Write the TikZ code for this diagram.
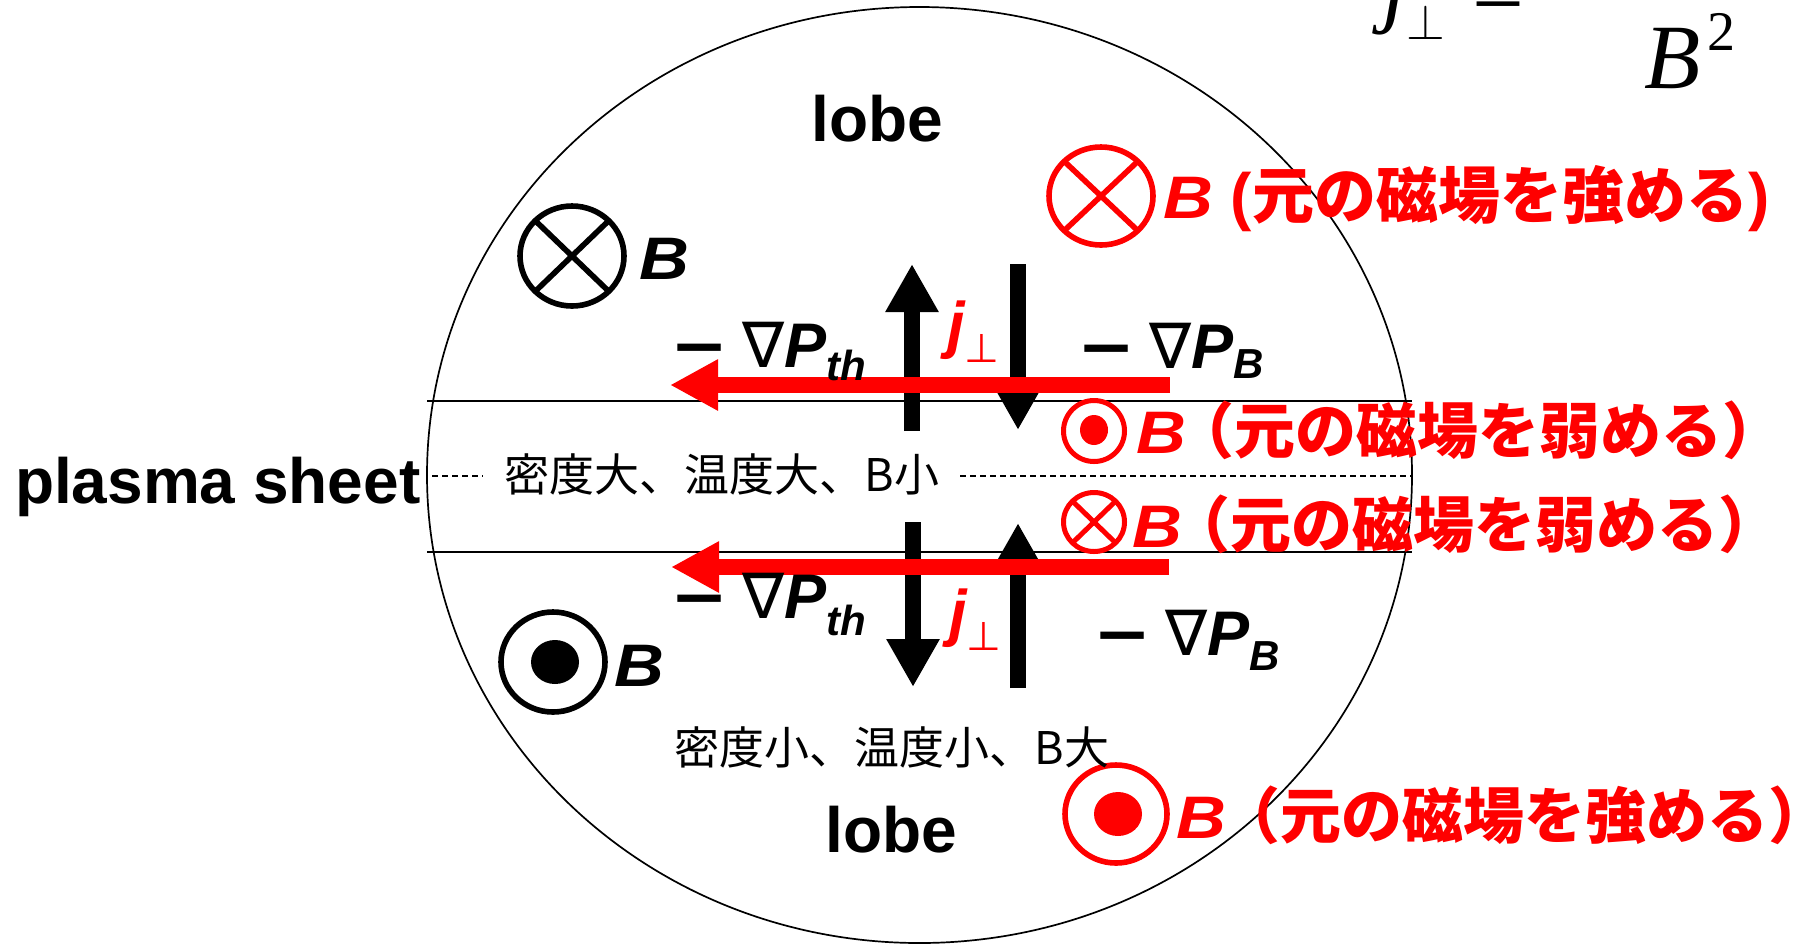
\documentclass[tikz,border=0pt]{standalone}
\usepackage{graphicx}
\usepackage{fontspec}
\setmainfont{Liberation Sans}
\newfontfamily\cjk{Noto Sans CJK JP}
\newfontfamily\dejavu{DejaVu Sans}
\newfontfamily\tnr{Liberation Serif}
\usetikzlibrary{arrows.meta,shapes.geometric}
\definecolor{pred}{RGB}{255,0,0}
\newcommand{\myfs}[1]{\fontsize{#1}{#1}\selectfont}
\newcommand{\wideB}{\scalebox{1.15}[1]{\bfseries\itshape B}}
\newcommand{\gradP}[2]{\scalebox{1.1}[1]{\dejavu\bfseries −}\hspace{7pt}{\dejavu\itshape ∇}{\bfseries\itshape P}\raisebox{#2}{\myfs{21}\bfseries\itshape #1}}
\newcommand{\jperp}{{\bfseries\itshape j}\raisebox{-8pt}{\myfs{20}\dejavu\itshape ⊥}}
\begin{document}
\begin{tikzpicture}[x=0.5pt,y=-0.5pt,
  txt/.style={inner sep=0pt,outer sep=0pt},
  sym/.style={ellipse,inner sep=0pt,outer sep=0pt},
  bsym/.style={sym,draw=black,line width=2.8pt},
  rsym/.style={sym,draw=pred,line width=2.8pt},
  rsmall/.style={sym,draw=pred,line width=2.5pt},
  bdot/.style={sym,fill=black},
  rdot/.style={sym,fill=pred},
  bcross/.style={line width=2.8pt,black},
  rcross/.style={line width=2.8pt,pred},
  rcrosssmall/.style={line width=2.5pt,pred},
  barrow/.style={line width=8pt,black,-{Triangle[length=24pt,width=25pt]}},
  rarrow/.style={line width=8pt,pred,-{Triangle[length=24pt,width=24pt]}},
  sheetline/.style={line width=0.9pt,black},
  midline/.style={line width=0.65pt,black,dash pattern=on 3pt off 2pt},
  lobetxt/.style={txt,font=\bfseries\myfs{32}},
  btxt/.style={txt,font=\myfs{30}},
  gtxt/.style={txt,font=\myfs{31.5}},
  jtxt/.style={txt,font=\myfs{31.5},text=pred},
  cjktxt/.style={txt,font=\cjk\myfs{22.5}},
  rrow/.style={txt,font=\myfs{30},text=pred}
]
\useasboundingbox (0,0) rectangle (1808,944);
\fill[white] (0,0) rectangle (1808,944);

% outer ellipse
\draw[line width=0.85pt] (919.5,475) ellipse [x radius=492.5, y radius=468];

% plasma sheet boundaries
\coordinate (lt1) at (427,401);
\coordinate (rt1) at (1412,401);
\coordinate (lt2) at (427,552);
\coordinate (rt2) at (1412,552);
\draw[sheetline] (lt1) -- (rt1);
\draw[sheetline] (lt2) -- (rt2);
\coordinate (m1) at (432,476);
\coordinate (m2) at (483,476);
\coordinate (m3) at (960,476);
\coordinate (m4) at (1412,476);
\draw[midline] (m1) -- (m2);
\draw[midline] (m3) -- (m4);

% black arrows (current)
\coordinate (a1s) at (912,431);
\coordinate (a1e) at (912,264);
\coordinate (a2s) at (1018,264);
\coordinate (a2e) at (1018,430);
\coordinate (a3s) at (913,522);
\coordinate (a3e) at (913,687);
\coordinate (a4s) at (1018,688);
\coordinate (a4e) at (1018,523);
\draw[barrow] (a1s) -- (a1e);
\draw[barrow] (a2s) -- (a2e);
\draw[barrow] (a3s) -- (a3e);
\draw[barrow] (a4s) -- (a4e);

% red arrows (force)
\coordinate (r1s) at (1170,385);
\coordinate (r1e) at (670,385);
\coordinate (r2s) at (1169,567);
\coordinate (r2e) at (671,567);
\draw[rarrow] (r1s) -- (r1e);
\draw[rarrow] (r2s) -- (r2e);

% black field symbols
\node[bsym,minimum width=52pt,minimum height=50pt] (bx) at (572,256) {};
\draw[bcross] (bx.north west) -- (bx.south east);
\draw[bcross] (bx.north east) -- (bx.south west);
\node[btxt,anchor=base west] (bxB) at (639,279) {\wideB};

\node[bsym,minimum width=52pt,minimum height=50pt] (bo) at (553,662) {};
\node[bdot,minimum width=24pt,minimum height=22pt] (bod) at (555,662) {};
\node[btxt,anchor=base west] (boB) at (614,686) {\wideB};

% red field symbols
\node[rsym,minimum width=52pt,minimum height=49pt] (rx1) at (1101,196) {};
\draw[rcross] (rx1.north west) -- (rx1.south east);
\draw[rcross] (rx1.north east) -- (rx1.south west);
\node[rrow,anchor=base west] (rt1txt) at (1163,218) {\wideB\hspace{9pt}{\bfseries\myfs{32}(}{\cjk\bfseries\myfs{31}元の磁場を強める}{\bfseries\myfs{32})}};

\node[rsmall,minimum width=30.5pt,minimum height=30.5pt] (ro1) at (1094,431) {};
\node[rdot,minimum width=14pt,minimum height=15pt] (ro1d) at (1094,430) {};
\node[rrow,anchor=base west] (rt2txt) at (1136,453) {\wideB\hspace{-6pt}{\cjk\bfseries\myfs{30.5}（元の磁場を弱める）}};

\node[rsmall,minimum width=30.5pt,minimum height=29.5pt] (rx2) at (1094,522) {};
\draw[rcrosssmall] (rx2.north west) -- (rx2.south east);
\draw[rcrosssmall] (rx2.north east) -- (rx2.south west);
\node[rrow,anchor=base west] (rt3txt) at (1132,547) {\wideB\hspace{-6pt}{\cjk\bfseries\myfs{30.5}（元の磁場を弱める）}};

\node[rsym,minimum width=51pt,minimum height=49pt] (ro2) at (1116,814) {};
\node[rdot,minimum width=24pt,minimum height=22pt] (ro2d) at (1118,814) {};
\node[rrow,anchor=base west] (rt4txt) at (1176,838) {\wideB\hspace{-3pt}{\cjk\bfseries\myfs{30.5}（元の磁場を強める）}};

% region labels
\node[lobetxt,anchor=base] (lobeT) at (877.5,141) {lobe};
\node[lobetxt,anchor=base] (lobeB) at (891.5,852) {lobe};
\node[txt,anchor=base west,font=\bfseries\myfs{32}] (ps) at (15,503) {plasma sheet};
\node[cjktxt] (inT) at (722,474) {密度大、温度大、B小};
\node[cjktxt] (inB) at (892,747) {密度小、温度小、B大};

% pressure gradient labels
\node[gtxt,anchor=base west] (gp1) at (670,367) {\gradP{th}{-6.5pt}};
\node[gtxt,anchor=base west] (gp2) at (1077,368) {\gradP{B}{-5pt}};
\node[gtxt,anchor=base west] (gp3) at (670,618) {\gradP{th}{-8.5pt}};
\node[gtxt,anchor=base west] (gp4) at (1093,655) {\gradP{B}{-7.5pt}};

% current labels
\node[jtxt,anchor=base west] (j1) at (947,346) {\jperp};
\node[jtxt,anchor=base west] (j2) at (949,634) {\jperp};

% formula fragment (top right)
\node[txt,anchor=base west,font=\tnr\itshape\myfs{46}] (fj) at (1382,15) {j};
\node[txt,anchor=base west,font=\myfs{24}] (fperp) at (1406,39) {$\perp$};
\node[txt,anchor=base west,font=\tnr\myfs{46}] (feq) at (1472,25) {=};
\node[txt,anchor=base west,font=\tnr\itshape\myfs{46}] (fB) at (1644,88) {B};
\node[txt,anchor=base west,font=\tnr\myfs{28}] (f2) at (1707,50) {2};
\end{tikzpicture}
\end{document}
